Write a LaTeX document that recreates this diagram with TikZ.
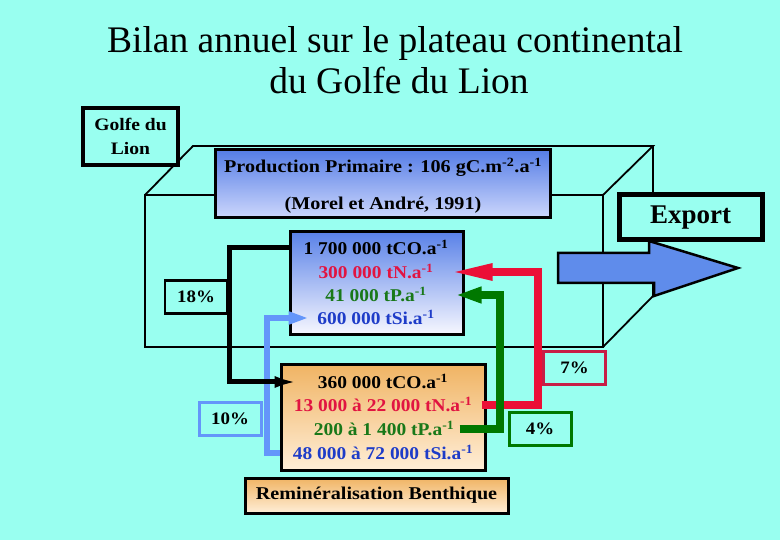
\documentclass[tikz,border=0pt]{standalone}
\usepackage{fontspec}
\setmainfont{Liberation Serif}
\newfontfamily\wideA[FakeStretch=1.08]{Liberation Serif}
\newfontfamily\wideB[FakeStretch=1.12]{Liberation Serif}
\usetikzlibrary{arrows.meta}
\definecolor{bg}{RGB}{153,255,240}
\definecolor{arrowblue}{RGB}{95,140,235}
\definecolor{lineblue}{RGB}{100,150,250}
\definecolor{nred}{RGB}{235,15,55}
\definecolor{ntext}{RGB}{225,20,65}
\definecolor{pgreen}{RGB}{0,120,0}
\definecolor{ptext}{RGB}{25,120,25}
\definecolor{sitext}{RGB}{30,60,200}
\definecolor{pcrim}{RGB}{200,30,70}
\definecolor{ptop}{RGB}{85,125,230}
\definecolor{pbot}{RGB}{205,215,252}
\definecolor{utop}{RGB}{90,130,232}
\definecolor{ubot}{RGB}{248,248,255}
\definecolor{otop}{RGB}{240,180,100}
\definecolor{obot}{RGB}{255,238,215}
\begin{document}
\begin{tikzpicture}[x=1pt,y=-1pt,
  box/.style={draw=black, line width=3pt, rectangle, inner sep=0pt, align=center},
  val/.style={font=\wideA\bfseries\fontsize{18}{22}\selectfont, inner sep=0pt, text height=13pt, text depth=0pt},
  valB/.style={font=\wideB\bfseries\fontsize{18}{22}\selectfont, inner sep=0pt, text height=13pt, text depth=0pt},
  pct/.style={draw, line width=3pt, rectangle, fill=bg, inner sep=0pt, minimum width=62pt, minimum height=33pt, font=\wideA\bfseries\fontsize{17.5}{22}\selectfont},
  frame/.style={line width=1.8pt, line join=miter},
  blackline/.style={line width=5pt, line join=miter, -{Latex[length=24pt,width=12pt]}},
  blueline/.style={lineblue, line width=6pt, line join=miter, -{Triangle[length=20pt,width=12pt]}},
  redline/.style={nred, line width=8pt, line join=miter, -{Triangle[length=44pt,width=15pt]}},
  greenline/.style={pgreen, line width=8pt, line join=miter, -{Triangle[length=26pt,width=15pt]}}
]
\fill[bg] (0,0) rectangle (780,540);
\useasboundingbox (0,0) rectangle (780,540);

% title
\node[font=\fontsize{37.5}{40}\selectfont, anchor=base, inner sep=0pt] (t1) at (395,53) {Bilan annuel sur le plateau continental};
\node[font=\fontsize{37.5}{40}\selectfont, anchor=base, inner sep=0pt] (t2) at (399,94) {du Golfe du Lion};

% 3D frame
\draw[frame] (145,195) rectangle (603,347);
\draw[frame] (145,195) -- (193,146) -- (653,146) -- (603,195);
\draw[frame] (653,146) -- (653,296);
\draw[frame] (603,347) -- (653,296);

% Golfe du Lion
\node[box, line width=4pt, fill=bg, minimum width=95pt, minimum height=57pt, font=\wideB\bfseries\fontsize{17.5}{24}\selectfont] (golfe) at (130.5,136.5) {Golfe du\\Lion};

% production box
\node[box, minimum width=335pt, minimum height=68pt, top color=ptop, bottom color=pbot] (prod) at (382.5,184) {};
\node[valB] (prodA) at (383,166) {Production Primaire : 106 gC.m\textsuperscript{-2}.a\textsuperscript{-1}};
\node[valB] (prodB) at (383,203) {(Morel et André, 1991)};

% export arrow
\filldraw[fill=arrowblue, draw=black, line width=2.5pt, line join=miter]
  (558,253) -- (649,253) -- (649,241) -- (738,268) -- (654,296) -- (654,283) -- (558,283) -- cycle;
\node[box, line width=5pt, fill=bg, minimum width=143pt, minimum height=45pt, font=\bfseries\fontsize{27}{30}\selectfont] (export) at (690.5,217.5) {Export};

% upper box
\node[box, minimum width=173pt, minimum height=103pt, top color=utop, bottom color=ubot] (upper) at (376.5,283.5) {};
\node[val] (uCO) at (376,248) {1 700 000 tCO.a\textsuperscript{-1}};
\node[val, text=ntext] (uN) at (376,272) {300 000 tN.a\textsuperscript{-1}};
\node[val, text=ptext] (uP) at (376,295) {41 000 tP.a\textsuperscript{-1}};
\node[val, text=sitext] (uSi) at (376,318) {600 000 tSi.a\textsuperscript{-1}};

% lower box
\node[box, minimum width=204pt, minimum height=105pt, top color=otop, bottom color=obot] (lower) at (383,417.5) {};
\node[val] (lCO) at (383,382) {360 000 tCO.a\textsuperscript{-1}};
\node[val, text=ntext] (lN) at (383,405) {13 000 à 22 000 tN.a\textsuperscript{-1}};
\node[val, text=ptext] (lP) at (384,429) {200 à 1 400 tP.a\textsuperscript{-1}};
\node[val, text=sitext] (lSi) at (383,453) {48 000 à 72 000 tSi.a\textsuperscript{-1}};

% remineralisation
\node[box, minimum width=263pt, minimum height=35pt, top color=otop, bottom color=obot, font=\wideB\bfseries\fontsize{18}{22}\selectfont] (remin) at (376.5,495.5) {Reminéralisation Benthique};

% percent boxes
\node[pct, line width=2.5pt, draw=black] (p18) at (196,297) {18\%};
\node[pct, draw=lineblue] (p10) at (230,419) {10\%};
\node[pct, draw=pcrim] (p7) at (574.5,368) {7\%};
\node[pct, draw=pgreen] (p4) at (540,429) {4\%};

% columns of the connectors
\coordinate (blackcol) at (229,0);
\coordinate (bluecol) at (267,0);
\coordinate (greencol) at (500,0);
\coordinate (redcol) at (538,0);

% connectors
\draw[blueline] (lower.west |- lSi) -- (bluecol |- lSi) -- (bluecol |- uSi) -- ([xshift=20pt]upper.west |- uSi);
\draw[blackline] (upper.west |- uCO) -- (blackcol |- uCO) -- (blackcol |- lCO) -- ([xshift=19pt]lower.west |- lCO);
\draw[redline] ([xshift=-5pt]lower.east |- lN) -- (redcol |- lN) -- (redcol |- uN) -- ([xshift=-16pt]upper.east |- uN);
\draw[greenline] ([xshift=-27pt]lower.east |- lP) -- (greencol |- lP) -- (greencol |- uP) -- ([xshift=-9pt]upper.east |- uP);
\end{tikzpicture}
\end{document}
